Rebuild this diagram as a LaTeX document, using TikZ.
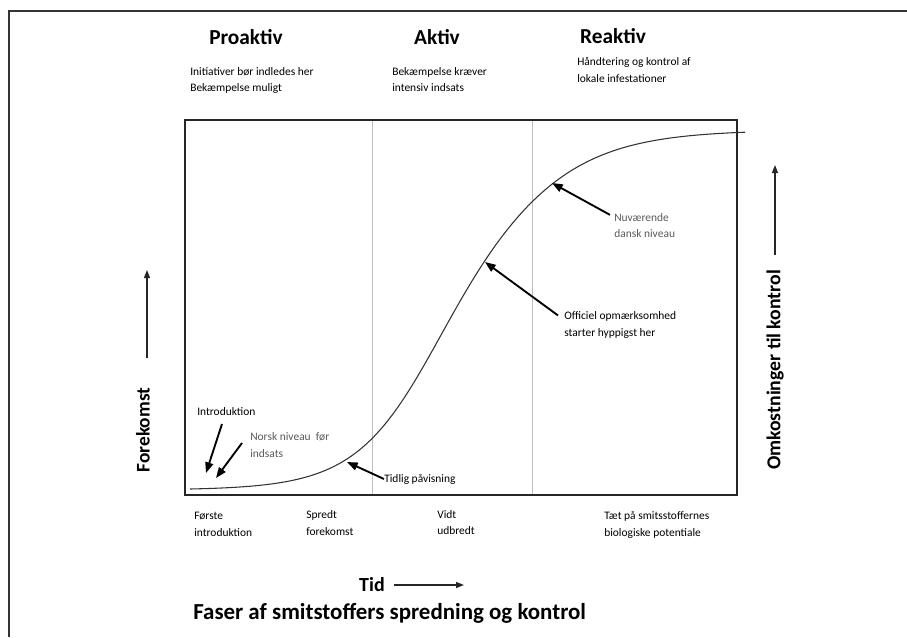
\documentclass[tikz,border=0pt]{standalone}
\usepackage{fontspec}
\setmainfont{Carlito}
\usetikzlibrary{arrows.meta}

\tikzset{
  fase/.style={font=\fontsize{16}{18}\selectfont\bfseries},
  smaa/.style={anchor=west, align=left, inner sep=0pt, font=\fontsize{8.6}{12.5}\selectfont},
  graa/.style={smaa, text=black!65},
  akse/.style={font=\fontsize{14.5}{16}\selectfont\bfseries, rotate=90},
  pil/.style={-{Triangle[length=8pt,width=6pt]}, line width=1.4pt},
  aksepil/.style={-{Triangle[length=6pt,width=4.5pt]}, line width=1pt, black!85}
}

\begin{document}
\begin{tikzpicture}[x=0.75pt, y=-0.75pt]
\useasboundingbox (0,0) rectangle (907,637);
\draw[line width=1.5pt, black!80] (9,637) -- (9,11) -- (907,11);

% ramme og faser
\draw[black!25, line width=0.7pt] (372,120) -- (372,495) (532,120) -- (532,495);
\draw[line width=1.8pt, black!85] (185,120) rectangle (737,495);
\draw[line width=0.8pt, black!80] plot[domain=190:745, samples=120, smooth]
  (\x, {490-360/(1+exp(-(\x-455)/(45+12/(1+exp(-(\x-455)/40)))))});

\node[fase] (proaktiv) at (246,37) {Proaktiv};
\node[fase] (aktiv) at (437,37) {Aktiv};
\node[fase] (reaktiv) at (613,36) {Reaktiv};
\node[smaa] (txtpro) at (190,80.5) {Initiativer bør indledes her\\Bekæmpelse muligt};
\node[smaa] (txtakt) at (392,79.5) {Bekæmpelse kræver\\intensiv indsats};
\node[smaa] (txtreak) at (577,70) {Håndtering og kontrol af\\lokale infestationer};

% pile mod kurven
\node[smaa] (intro) at (197,412) {Introduktion};
\node[graa] (norsk) at (250,445) {Norsk niveau\ \ før\\indsats};
\node[smaa] (tidlig) at (384,479) {Tidlig påvisning};
\node[graa] (nuv) at (614,225.5) {Nuværende\\dansk niveau};
\node[smaa] (offic) at (564,325) {Officiel opmærksomhed\\starter hyppigst her};
\coordinate (introtip) at (206,473);
\coordinate (norsktip) at (216,478);
\coordinate (tidligtip) at (347,462);
\coordinate (nuvtip) at (552,183);
\coordinate (offictip) at (485,262);
\draw[pil] (222,424) -- (introtip);
\draw[pil] (norsk.west) ++(-8,-2) -- (norsktip);
\draw[pil] (tidlig.west) -- (tidligtip);
\draw[pil] (nuv.north west) ++(-4,2) -- (nuvtip);
\draw[pil] (offic.north west) ++(-6,4) -- (offictip);

% tidsakse
\node[smaa] (forste) at (194,524.5) {Første\\introduktion};
\node[smaa] (spredt) at (306,523) {Spredt\\forekomst};
\node[smaa] (vidt) at (437,522.5) {Vidt\\udbredt};
\node[smaa] (taet) at (604,525) {Tæt på smitsstoffernes\\biologiske potentiale};
\node[font=\fontsize{15}{17}\selectfont\bfseries] (tid) at (372,585) {Tid};
\coordinate (tidslut) at (464,585);
\draw[aksepil] (tid.east) ++(5,0) -- (tidslut);
\node[anchor=west, inner sep=0pt, font=\fontsize{17.2}{20}\selectfont\bfseries] (titel) at (193,613)
  {Faser af smitstoffers spredning og kontrol};

% lodrette akser
\node[akse] (forekomst) at (143,430) {Forekomst};
\coordinate (forekomsttop) at (147,270);
\draw[aksepil] (147,358) -- (forekomsttop);
\node[akse, font=\fontsize{14.8}{17}\selectfont\bfseries] (omk) at (775,370) {Omkostninger til kontrol};
\coordinate (omktop) at (775,165);
\draw[aksepil] (775,255) -- (omktop);
\end{tikzpicture}
\end{document}
